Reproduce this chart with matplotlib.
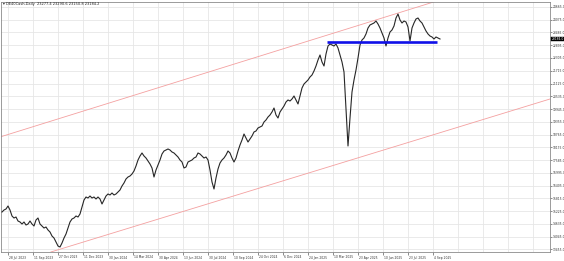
import matplotlib
matplotlib.use("Agg")
import matplotlib.pyplot as plt
from matplotlib.ticker import FixedLocator, NullFormatter

# ---------------- data ----------------
symbol_title = "DE40Cash,Daily  23277.4 23290.6 23150.8 23184.2"

close_prices = [
    15180, 15272, 15318, 15457, 15272, 14995, 14902, 14948, 14763, 14717,
    14624, 14717, 14578, 14624, 14763, 14624, 14532, 14809, 14902, 14624,
    14532, 14439, 14485, 14347, 14254, 14069, 13976, 13791, 13606, 13560,
    13745, 13976, 14161, 14439, 14717, 14856, 14902, 14995, 14948, 15087,
    15411, 15735, 15874, 15828, 15920, 15828, 15874, 15782, 15874, 15782,
    15550, 15735, 15920, 16013, 15967, 16059, 15967, 16013, 16105, 16198,
    16383, 16522, 16707, 16799, 16846, 16938, 17077, 17308, 17586, 17771,
    17910, 17771, 17678, 17539, 17401, 17216, 16799, 17123, 17354, 17586,
    17863, 18002, 18048, 18095, 18048, 17956, 17910, 17817, 17724, 17586,
    17493, 17216, 17262, 17493, 17539, 17586, 17678, 17724, 17910, 17863,
    17771, 17678, 17724, 17586, 17123, 16568, 16244, 16753, 17169, 17447,
    17586, 17678, 17817, 18002, 17910, 17678, 17493, 17678, 18002, 18280,
    18511, 18789, 18604, 18418, 18557, 18696, 18882, 18928, 19066, 19113,
    19159, 19344, 19437, 19575, 19668, 19807, 19992, 19668, 19529, 19807,
    19946, 20084, 20269, 20362, 20316, 20408, 20547, 20362, 20177, 20547,
    20917, 21102, 21195, 21287, 21426, 21519, 21704, 21935, 22213, 22444,
    22120, 21935, 22490, 22861, 22953, 22907, 22861, 22953, 22768, 22444,
    22120, 21658, 19899, 18234, 19529, 20732, 21287, 21750, 22305, 22907,
    23138, 23231, 23416, 23693, 23832, 23878, 23925, 24017, 23878, 23693,
    23462, 23231, 22861, 23231, 23508, 23601, 23786, 24156, 24341, 24063,
    23925, 24017, 23971, 23740, 23092, 23693, 23925, 24110, 24156, 24017,
    23925, 23740, 23555, 23416, 23323, 23277, 23184, 23277, 23231, 23184,
]

date_labels = [
    "28 Jul 2023", "11 Sep 2023", "27 Oct 2023", "11 Dec 2023", "30 Jan 2024",
    "14 Mar 2024", "30 Apr 2024", "13 Jun 2024", "30 Jul 2024", "10 Sep 2024",
    "24 Oct 2024", "6 Dec 2024", "24 Jan 2025", "10 Mar 2025", "23 Apr 2025",
    "10 Jun 2025", "23 Jul 2025", "4 Sep 2025",
]
date_label_bar = [3 + 12.5 * k for k in range(len(date_labels))]
grid_extra_bar = [3 + 12.5 * k for k in range(len(date_labels), 22)]

price_levels = [24665 - 590 * k for k in range(20)]

# channel lines (bar index, price) anchors
channel_upper = [(-1, 18650), (219, 24989)]
channel_lower = [(44, 13884), (274, 20408)]

# horizontal support
support_level = 23046
support_start_bar = 162.5
support_end_bar = 217.5

# ---------------- figure ----------------
W, H = 564, 261
fig = plt.figure(figsize=(W / 100, H / 100), dpi=100)
fig.patch.set_facecolor("white")
left_px, right_px, top_px, bottom_px = 1, 550, 2, 252
ax = fig.add_axes([left_px / W, 1 - bottom_px / H,
                   (right_px - left_px) / W, (bottom_px - top_px) / H])
ax.set_xlim(-0.5, -0.5 + (right_px - left_px) / 2)
ax.set_ylim(13329, 24896)

# grid
for xb in date_label_bar + grid_extra_bar:
    ax.axvline(xb, color="#e6e6e6", lw=0.6, zorder=0)
for lv in price_levels:
    ax.axhline(lv, color="#e6e6e6", lw=0.6, zorder=0)

# channel
ax.axline(channel_upper[0], channel_upper[1], color="#f4a0a0", lw=0.6, zorder=1)
ax.axline(channel_lower[0], channel_lower[1], color="#f4a0a0", lw=0.6, zorder=1)

# price
ax.plot(range(len(close_prices)), close_prices, color="#262626", lw=0.8,
        zorder=3)

# support line
ax.plot([support_start_bar, support_end_bar], [support_level, support_level],
        color="#1010e8", lw=1.9, zorder=4, solid_capstyle="butt")

# axes styling
for s in ax.spines.values():
    s.set_color("#8a8a8a")
    s.set_linewidth(0.6)
ax.yaxis.tick_right()
ax.yaxis.set_major_locator(FixedLocator(price_levels))
ax.set_yticklabels([f"{v:.1f}" for v in price_levels])
ax.tick_params(axis="y", which="major", length=1.2, width=0.4, pad=0.6,
               labelsize=2.2, colors="#333333")
ax.xaxis.set_major_locator(FixedLocator(date_label_bar))
ax.xaxis.set_major_formatter(NullFormatter())
ax.tick_params(axis="x", which="major", length=2, width=0.4, colors="#333333")
for xb, lab in zip(date_label_bar, date_labels):
    ax.text(xb + 0.6, -0.014, lab, transform=ax.get_xaxis_transform(),
            ha="left", va="top", fontsize=2.2, color="#333333", clip_on=False)

# current price tag
last = close_prices[-1]
ax.text(1.003, last, f"{last:.1f}", transform=ax.get_yaxis_transform(),
        ha="left", va="center", fontsize=2.2, color="white", clip_on=False,
        bbox=dict(boxstyle="square,pad=0.12", fc="black", ec="black", lw=0.3),
        zorder=6)

# title
fig.text(3 / W, 1 - 4.5 / H, "\u25BE " + symbol_title, ha="left", va="center",
         fontsize=2.6, color="#222222")

fig.savefig("out.png", dpi=100, facecolor="white")
